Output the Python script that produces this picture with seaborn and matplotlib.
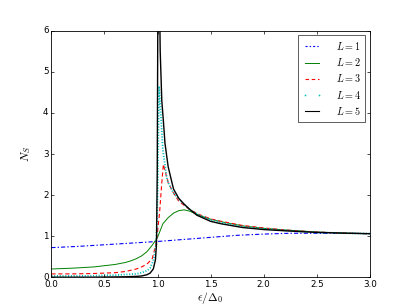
import matplotlib
matplotlib.use("Agg")
import matplotlib.pyplot as plt
from matplotlib.lines import Line2D
import seaborn as sns

# --- data ---
x_L1 = [0.0, 0.25, 0.5, 0.75, 1.0, 1.25, 1.5, 1.75, 2.0, 2.25, 2.5, 2.75, 3.0]
y_L1 = [0.72, 0.75, 0.79, 0.83, 0.87, 0.92, 0.97, 1.02, 1.05, 1.07, 1.07, 1.07, 1.06]

x_L2 = [0.0, 0.2, 0.4, 0.6, 0.7, 0.75, 0.8, 0.85, 0.9, 0.95, 1.0, 1.05, 1.1, 1.15,
        1.2, 1.25, 1.3, 1.4, 1.5, 1.6, 1.8, 2.0, 2.2, 2.5, 2.8, 3.0]
y_L2 = [0.2, 0.22, 0.25, 0.31, 0.36, 0.40, 0.45, 0.52, 0.62, 0.78, 0.97, 1.3, 1.45, 1.56,
        1.62, 1.64, 1.61, 1.5, 1.41, 1.35, 1.25, 1.19, 1.15, 1.1, 1.07, 1.06]

x_L3 = [0.0, 0.2, 0.4, 0.6, 0.7, 0.8, 0.85, 0.9, 0.95, 0.98, 1.0, 1.02, 1.04, 1.055,
        1.07, 1.1, 1.15, 1.2, 1.3, 1.4, 1.5, 1.6, 1.8, 2.0, 2.2, 2.5, 2.8, 3.0]
y_L3 = [0.08, 0.08, 0.09, 0.11, 0.14, 0.2, 0.25, 0.32, 0.45, 0.75, 1.1, 1.6, 2.3, 2.75,
        2.6, 2.3, 2.05, 1.85, 1.65, 1.52, 1.42, 1.36, 1.26, 1.2, 1.15, 1.1, 1.07, 1.06]

x_L4 = [0.0, 0.3, 0.6, 0.8, 0.85, 0.9, 0.93, 0.96, 0.98, 0.99, 1.0, 1.008, 1.015, 1.03,
        1.05, 1.085, 1.1, 1.15, 1.2, 1.3, 1.4, 1.5, 1.6, 1.8, 2.0, 2.2, 2.5, 2.8, 3.0]
y_L4 = [0.03, 0.03, 0.05, 0.08, 0.11, 0.16, 0.22, 0.4, 0.66, 1.0, 2.0, 3.5, 4.65, 4.0,
        3.1, 2.45, 2.3, 2.05, 1.9, 1.65, 1.5, 1.4, 1.33, 1.23, 1.18, 1.14, 1.09, 1.07, 1.06]

x_L5 = [0.0, 0.4, 0.7, 0.8, 0.85, 0.9, 0.93, 0.96, 0.98, 0.99, 0.997, 1.005, 1.015,
        1.025, 1.04, 1.055, 1.07, 1.1, 1.15, 1.2, 1.25, 1.3, 1.37, 1.5, 1.6, 1.8, 2.0,
        2.2, 2.5, 2.8, 3.0]
y_L5 = [0.0, 0.0, 0.01, 0.02, 0.03, 0.06, 0.1, 0.2, 0.42, 0.8, 2.5, 8.0, 7.5,
        5.5, 4.3, 3.8, 3.26, 2.69, 2.15, 1.92, 1.78, 1.66, 1.51, 1.36, 1.3, 1.21, 1.16,
        1.13, 1.09, 1.07, 1.06]

labels = ["$L=1$", "$L=2$", "$L=3$", "$L=4$", "$L=5$"]

plt.style.use("classic")
plt.rcParams["mathtext.fontset"] = "cm"
FS = 6.3

fig, ax = plt.subplots(figsize=(4.11, 3.08), dpi=100)
fig.patch.set_facecolor("white")
fig.subplots_adjust(left=0.125, right=0.9, bottom=0.1, top=0.9)

sns.lineplot(x=x_L1, y=y_L1, ax=ax, color="b", lw=0.8, estimator=None, sort=False)
ax.lines[-1].set_dashes([3, 1.5, 1, 1.5])
sns.lineplot(x=x_L2, y=y_L2, ax=ax, color="g", lw=0.7, estimator=None, sort=False)
sns.lineplot(x=x_L3, y=y_L3, ax=ax, color="r", lw=0.8, estimator=None, sort=False)
ax.lines[-1].set_dashes([3, 2])
sns.lineplot(x=x_L4, y=y_L4, ax=ax, color="c", lw=1.3, estimator=None, sort=False)
ax.lines[-1].set_dashes([0.8, 1.2])
sns.lineplot(x=x_L5, y=y_L5, ax=ax, color="k", lw=1.0, estimator=None, sort=False)

ax.set_xlim(0, 3)
ax.set_ylim(0, 6)
ax.set_xticks([0.0, 0.5, 1.0, 1.5, 2.0, 2.5, 3.0])
ax.set_xticklabels(["0.0", "0.5", "1.0", "1.5", "2.0", "2.5", "3.0"])
ax.set_yticks([0, 1, 2, 3, 4, 5, 6])
ax.tick_params(labelsize=FS, direction="in", length=2.5, width=0.5, top=True, right=True, pad=2)
for sp in ax.spines.values():
    sp.set_linewidth(0.6)

ax.set_xlabel(r"$\epsilon/\Delta_0$", fontsize=FS + 2, labelpad=1)
ax.set_ylabel(r"$N_S$", fontsize=FS + 2, labelpad=7)

handles = [
    Line2D([], [], color="b", lw=0.8, dashes=[1.5, 1.5, 1, 1.5]),
    Line2D([], [], color="g", lw=0.7),
    Line2D([], [], color="r", lw=0.8, dashes=[2.5, 2]),
    Line2D([], [], color="c", ls="none", marker=".", markersize=1.5),
    Line2D([], [], color="k", lw=0.8),
]
leg = ax.legend(handles, labels, loc="upper right", fontsize=FS + 1, numpoints=2,
                handlelength=2.0, borderpad=0.45, labelspacing=0.42, handletextpad=1.3,
                borderaxespad=0.45, fancybox=False, shadow=False)
leg.get_frame().set_linewidth(0.6)
leg.get_frame().set_edgecolor("#444444")

fig.savefig("out.png", dpi=100, facecolor="white")
